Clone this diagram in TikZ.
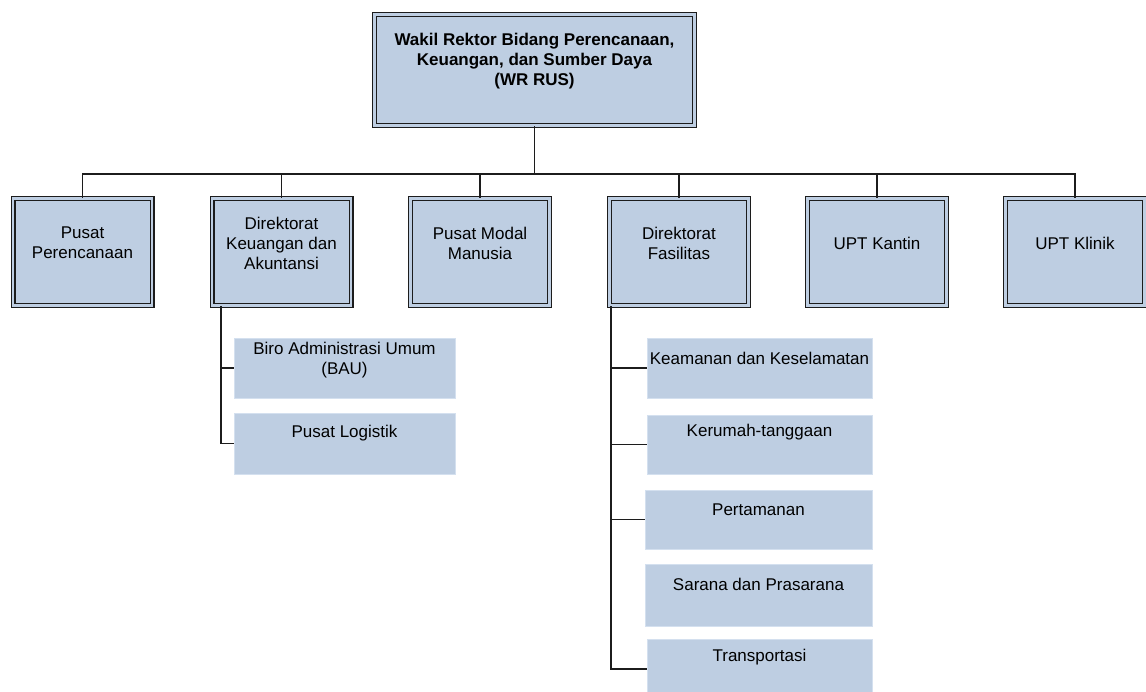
\documentclass[tikz,border=0pt]{standalone}
\usepackage{fontspec}
\setmainfont{Liberation Sans}
\usetikzlibrary{calc}
\definecolor{boxblue}{RGB}{190,206,226}
\definecolor{subedge}{RGB}{212,224,239}
\definecolor{lineclr}{RGB}{28,28,28}
\begin{document}
\begin{tikzpicture}[x=1pt,y=-1pt,
  unitbox/.style={draw=lineclr, line width=1.1pt, double=boxblue, double distance=2.8pt,
    fill=boxblue, inner sep=0pt, minimum width=139pt, minimum height=107pt},
  topbox/.style={unitbox, minimum width=320pt, minimum height=111pt},
  subbox/.style={draw=subedge, line width=1pt, fill=boxblue, inner sep=0pt,
    minimum width=221pt, minimum height=60pt},
  lbl/.style={font=\fontsize{17}{20}\selectfont, align=center, inner sep=0pt},
  toplbl/.style={lbl, font=\fontsize{17}{20}\selectfont\bfseries},
  conn/.style={draw=lineclr, line width=1.6pt}]
\useasboundingbox (0,0) rectangle (1146,691);

% top box
\node[topbox] (wr) at (534.5,70) {};
\node[toplbl] (wrt) at ($(wr.center)+(0,-9)$) {Wakil Rektor Bidang Perencanaan,\\Keuangan, dan Sumber Daya\\(WR RUS)};

% level 2
\node[unitbox] (pp) at (82.5,252) {};
\node[unitbox] (dk) at (281.5,252) {};
\node[unitbox] (pm) at (480,252) {};
\node[unitbox] (df) at (679,252) {};
\node[unitbox] (uk) at (877,252) {};
\node[unitbox] (ukl) at (1075,252) {};
\node[lbl] (ppt) at ($(pp.center)+(0,-9)$) {Pusat\\Perencanaan};
\node[lbl] (dkt) at ($(dk.center)+(0,-9)$) {Direktorat\\Keuangan dan\\Akuntansi};
\node[lbl] (pmt) at ($(pm.center)+(0,-9)$) {Pusat Modal\\Manusia};
\node[lbl] (dft) at ($(df.center)+(0,-9)$) {Direktorat\\Fasilitas};
\node[lbl] (ukt) at ($(uk.center)+(0,-9)$) {UPT Kantin};
\node[lbl] (uklt) at ($(ukl.center)+(0,-9)$) {UPT Klinik};

% bus
\coordinate (bus) at (534,174);
\draw[conn] (wr.south) -- (wr.south |- bus);
\draw[conn] (pp.north) -- (pp.north |- bus) -- (ukl.north |- bus) -- (ukl.north);
\draw[conn] (dk.north) -- (dk.north |- bus);
\draw[conn] (pm.north) -- (pm.north |- bus);
\draw[conn] (df.north) -- (df.north |- bus);
\draw[conn] (uk.north) -- (uk.north |- bus);

% sub-units of Keuangan
\node[subbox] (biro) at (344.5,368) {};
\node[subbox, minimum height=61pt] (logi) at (344.5,443.5) {};
\node[lbl] (birot) at ($(biro.center)+(0,-8)$) {Biro Administrasi Umum\\(BAU)};
\node[lbl] (logit) at ($(logi.center)+(0,-10)$) {Pusat Logistik};
\coordinate (kspine) at ($(dk.south west)+(9.5,0)$);
\draw[conn] (kspine) |- (logi.west);
\draw[conn] (kspine |- biro.west) -- (biro.west);

% sub-units of Fasilitas
\node[subbox, minimum width=225pt] (keam) at (759.5,368) {};
\node[subbox, minimum width=225pt, minimum height=59pt] (kerum) at (759.5,444.5) {};
\node[subbox, minimum width=227pt, minimum height=59pt] (perta) at (758.5,519.5) {};
\node[subbox, minimum width=227pt, minimum height=62pt] (sarana) at (758.5,595) {};
\node[subbox, minimum width=225pt] (trans) at (759.5,669) {};
\node[lbl] (keamt) at ($(keam.center)+(0,-10)$) {Keamanan dan Keselamatan};
\node[lbl] (kerumt) at ($(kerum.center)+(0,-12)$) {Kerumah-tanggaan};
\node[lbl] (pertat) at ($(perta.center)+(0,-10)$) {Pertamanan};
\node[lbl] (saranat) at ($(sarana.center)+(0,-11)$) {Sarana dan Prasarana};
\node[lbl] (transt) at ($(trans.center)+(0,-12)$) {Transportasi};
\coordinate (fspine) at ($(df.south west)+(2,0)$);
\draw[conn] (fspine) |- (trans.west);
\draw[conn] (fspine |- keam.west) -- (keam.west);
\draw[conn] (fspine |- kerum.west) -- (kerum.west);
\draw[conn] (fspine |- perta.west) -- (perta.west);
\end{tikzpicture}
\end{document}
